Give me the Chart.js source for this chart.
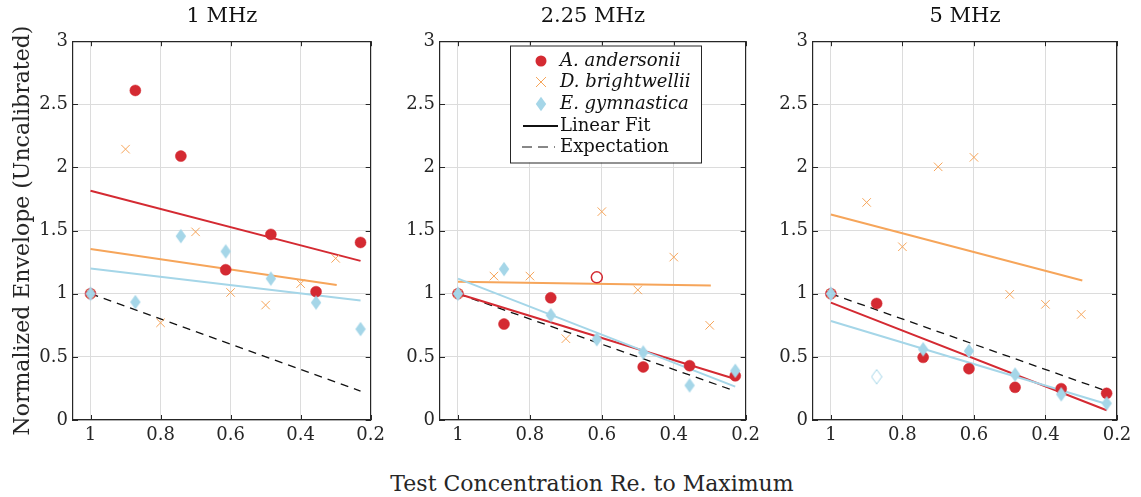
<!DOCTYPE html>
<html>
<head>
<meta charset="utf-8">
<script src="https://cdn.jsdelivr.net/npm/chart.js@4/dist/chart.umd.min.js"></script>
<style>
  body { margin: 0; background: #fff; width: 1141px; height: 497px; position: relative; overflow: hidden; font-family: "DejaVu Serif", serif; }
  canvas { position: absolute; top: 0; }
  #xlab { position: absolute; left: 0; top: 470px; width: 1184px; text-align: center; font-size: 22px; line-height: 28px; color: #262626; }
</style>
</head>
<body>
<canvas id="c1" style="left:0px" width="390" height="450"></canvas>
<canvas id="c2" style="left:395px" width="370" height="450"></canvas>
<canvas id="c3" style="left:770px" width="371" height="450"></canvas>
<div id="xlab">Test Concentration Re. to Maximum</div>
<script>
// panels
const freqs = ['1 MHz', '2.25 MHz', '5 MHz'];

// x positions (concentration re. maximum)
const xAE = [1, 0.872, 0.742, 0.614, 0.485, 0.356, 0.229];
const xD = [1, 0.9, 0.8, 0.7, 0.6, 0.5, 0.4, 0.3];

// normalized envelope, one row per panel
const andersonii = [
  [1, 2.61, 2.09, 1.19, 1.47, 1.016, 1.406],
  [1, 0.76, 0.968, 1.13, 0.42, 0.43, 0.35],
  [1, 0.923, 0.496, 0.406, 0.259, 0.248, 0.211]
];
const brightwellii = [
  [1, 2.145, 0.77, 1.49, 1.01, 0.91, 1.08, 1.28],
  [1, 1.14, 1.14, 0.644, 1.65, 1.03, 1.29, 0.75],
  [1, 1.723, 1.372, 2.005, 2.08, 0.995, 0.916, 0.836]
];
const gymnastica = [
  [1, 0.934, 1.456, 1.335, 1.12, 0.93, 0.72],
  [1, 1.195, 0.83, 0.64, 0.535, 0.274, 0.39],
  [1, 0.343, 0.56, 0.546, 0.36, 0.203, 0.132]
];
// points drawn hollow
const openA = [[], [3], []];
const openE = [[], [], [1]];

// linear fits (end points)
const fitXAE = [1, 0.229];
const fitXD = [1, 0.297];
const fitA = [[1.815, 1.26], [1.0, 0.325], [0.93, 0.077]];
const fitD = [[1.354, 1.07], [1.095, 1.066], [1.628, 1.105]];
const fitE = [[1.20, 0.947], [1.12, 0.264], [0.784, 0.127]];
const expX = [1, 0.229];
const expY = [1, 0.229];

const xTicks = [1, 0.8, 0.6, 0.4, 0.2];
const xTickLabels = ['1', '0.8', '0.6', '0.4', '0.2'];
const yTicks = [0, 0.5, 1, 1.5, 2, 2.5, 3];
const yTickLabels = ['0', '0.5', '1', '1.5', '2', '2.5', '3'];

const RED = '#d42a32', ORANGE = '#f6a55a', BLUE = '#a5d6e8';
const AXIS = '#262626';

Chart.defaults.font.family = "'DejaVu Serif', serif";
Chart.defaults.color = AXIS;

const pts = (xs, ys) => xs.map((x, i) => ({ x: x, y: ys[i] }));

const diamond = (filled) => {
  const c = document.createElement('canvas');
  c.width = 12; c.height = 16;
  const g = c.getContext('2d');
  g.beginPath();
  g.moveTo(6, 0.8); g.lineTo(11.2, 8); g.lineTo(6, 15.2); g.lineTo(0.8, 8); g.closePath();
  if (filled) { g.fillStyle = BLUE; g.fill(); }
  else { g.strokeStyle = BLUE; g.lineWidth = 1; g.stroke(); }
  return c;
};
const dFull = diamond(true), dOpen = diamond(false);

// inward tick marks on all four sides
const tickMarks = {
  id: 'tickMarks',
  afterDraw(chart) {
    const ctx = chart.ctx;
    const a = chart.chartArea;
    const sx = chart.scales.x, sy = chart.scales.y;
    ctx.save();
    ctx.strokeStyle = AXIS;
    ctx.lineWidth = 1;
    ctx.beginPath();
    xTicks.forEach(v => {
      const px = Math.round(sx.getPixelForValue(v)) + 0.5;
      ctx.moveTo(px, a.bottom); ctx.lineTo(px, a.bottom - 5);
      ctx.moveTo(px, a.top); ctx.lineTo(px, a.top + 5);
    });
    yTicks.forEach(v => {
      const py = Math.round(sy.getPixelForValue(v)) + 0.5;
      ctx.moveTo(a.left, py); ctx.lineTo(a.left + 5, py);
      ctx.moveTo(a.right, py); ctx.lineTo(a.right - 5, py);
    });
    ctx.stroke();
    ctx.restore();
  }
};

const legendBox = {
  id: 'legendBox',
  afterDraw(chart) {
    const ctx = chart.ctx;
    const L = 115, T = 45.5, W = 191, H = 117;
    const rows = [61, 82, 104, 126, 147];
    ctx.save();
    ctx.fillStyle = '#fff';
    ctx.fillRect(L, T, W, H);
    ctx.strokeStyle = AXIS;
    ctx.lineWidth = 1;
    ctx.strokeRect(L + 0.5, T + 0.5, W, H);
    const mx = 146;
    // markers
    ctx.fillStyle = RED;
    ctx.beginPath(); ctx.arc(mx, rows[0], 5.5, 0, Math.PI * 2); ctx.fill();
    ctx.strokeStyle = ORANGE; ctx.lineWidth = 1;
    ctx.beginPath();
    ctx.moveTo(mx - 5, rows[1] - 5); ctx.lineTo(mx + 5, rows[1] + 5);
    ctx.moveTo(mx + 5, rows[1] - 5); ctx.lineTo(mx - 5, rows[1] + 5);
    ctx.stroke();
    ctx.drawImage(dFull, mx - 6, rows[2] - 8);
    ctx.strokeStyle = '#111';
    ctx.lineWidth = 2;
    ctx.beginPath(); ctx.moveTo(128, rows[3]); ctx.lineTo(163, rows[3]); ctx.stroke();
    ctx.lineWidth = 1;
    ctx.setLineDash([10, 6]);
    ctx.beginPath(); ctx.moveTo(127, rows[4]); ctx.lineTo(160, rows[4]); ctx.stroke();
    ctx.setLineDash([]);
    // text
    ctx.fillStyle = '#111';
    ctx.textBaseline = 'middle';
    ctx.font = "italic 18px 'DejaVu Serif', serif";
    ctx.fillText('A. andersonii', 165, rows[0]);
    ctx.fillText('D. brightwellii', 165, rows[1]);
    ctx.fillText('E. gymnastica', 165, rows[2]);
    ctx.font = "18px 'DejaVu Serif', serif";
    ctx.fillText('Linear Fit', 165, rows[3]);
    ctx.fillText('Expectation', 165, rows[4]);
    ctx.restore();
  }
};

const layouts = [
  { id: 'c1', yw: 73, pr: 17 },
  { id: 'c2', yw: 45, pr: 18 },
  { id: 'c3', yw: 43, pr: 24 }
];

freqs.forEach((f, p) => {
  const lay = layouts[p];
  const datasets = [
    {
      label: 'E. gymnastica', data: pts(xAE, gymnastica[p]),
      pointStyle: gymnastica[p].map((v, i) => openE[p].includes(i) ? dOpen : dFull),
      borderWidth: 0
    },
    {
      label: 'D. brightwellii', data: pts(xD, brightwellii[p]),
      pointStyle: 'crossRot', pointRadius: 6, borderColor: ORANGE, pointBorderWidth: 1
    },
    {
      label: 'A. andersonii', data: pts(xAE, andersonii[p]),
      pointStyle: 'circle', pointRadius: 5.5,
      pointBackgroundColor: andersonii[p].map((v, i) => openA[p].includes(i) ? 'rgba(0,0,0,0)' : RED),
      pointBorderColor: RED, pointBorderWidth: andersonii[p].map((v, i) => openA[p].includes(i) ? 1.5 : 0.5)
    },
    { label: 'fitE', data: pts(fitXAE, fitE[p]), showLine: true, borderColor: BLUE, borderWidth: 2, pointRadius: 0 },
    { label: 'fitD', data: pts(fitXD, fitD[p]), showLine: true, borderColor: ORANGE, borderWidth: 2, pointRadius: 0 },
    { label: 'fitA', data: pts(fitXAE, fitA[p]), showLine: true, borderColor: RED, borderWidth: 2, pointRadius: 0 },
    { label: 'Expectation', data: pts(expX, expY), showLine: true, borderColor: '#111', borderWidth: 1.3, borderDash: [8, 6], pointRadius: 0 }
  ];

  const edge = { display: true, color: AXIS, width: 1.2, z: 1 };

  new Chart(document.getElementById(lay.id), {
    type: 'scatter',
    data: { datasets: datasets },
    options: {
      responsive: false,
      animation: false,
      layout: { padding: { right: lay.pr, left: 0, top: 0, bottom: 0 } },
      plugins: {
        legend: { display: false },
        tooltip: { enabled: false },
        title: {
          display: true, text: f, fullSize: false,
          font: { size: 21, weight: 'normal' }, color: '#111',
          padding: { top: 4, bottom: 12 }
        }
      },
      scales: {
        x: {
          type: 'linear', reverse: true, min: 0.2, max: 1.05,
          afterBuildTicks: s => { s.ticks = xTicks.map(v => ({ value: v })); },
          afterFit: s => { s.height = 30; },
          ticks: {
            font: { size: 18 }, color: AXIS, padding: 5, maxRotation: 0,
            callback: v => xTickLabels[xTicks.indexOf(v)]
          },
          grid: { color: '#dcdcdc', drawTicks: false },
          border: edge
        },
        xTop: {
          type: 'linear', position: 'top', reverse: true, min: 0.2, max: 1.05,
          afterFit: s => { s.height = 0; },
          ticks: { display: false },
          grid: { display: false, drawTicks: false },
          border: edge
        },
        y: {
          min: 0, max: 3,
          afterBuildTicks: s => { s.ticks = yTicks.map(v => ({ value: v })); },
          afterFit: s => { s.width = lay.yw; },
          ticks: {
            font: { size: 18 }, color: AXIS, padding: 5,
            callback: v => yTickLabels[yTicks.indexOf(v)]
          },
          grid: { color: '#dcdcdc', drawTicks: false },
          border: edge,
          title: {
            display: p === 0, text: 'Normalized Envelope (Uncalibrated)',
            font: { size: 22 }, color: AXIS, padding: { top: 10, bottom: 0 }
          }
        },
        yRight: {
          position: 'right', min: 0, max: 3,
          afterFit: s => { s.width = 0; },
          ticks: { display: false },
          grid: { display: false, drawTicks: false },
          border: edge
        }
      }
    },
    plugins: p === 1 ? [tickMarks, legendBox] : [tickMarks]
  });
});
</script>
</body>
</html>
